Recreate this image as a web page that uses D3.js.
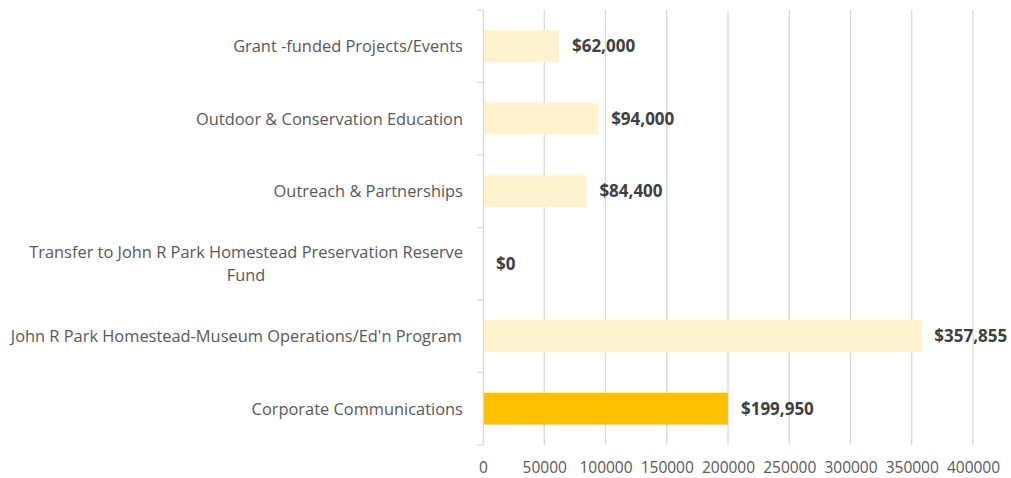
<!DOCTYPE html>
<html>
<head>
<meta charset="utf-8">
<script src="https://cdn.jsdelivr.net/npm/d3@7"></script>
<style>
  body { margin: 0; background: #fff; }
  text { font-family: "Open Sans", "Noto Sans", sans-serif; }
</style>
</head>
<body>
<div id="chart"></div>
<script>
const categories = [
    "Grant -funded Projects/Events",
    "Outdoor & Conservation Education",
    "Outreach & Partnerships",
    "Transfer to John R Park Homestead Preservation Reserve Fund",
    "John R Park Homestead-Museum Operations/Ed'n Program",
    "Corporate Communications"
];
const values = [62000, 94000, 84400, 0, 357855, 199950];
const highlighted = ["Corporate Communications"];
const xTicks = [0, 50000, 100000, 150000, 200000, 250000, 300000, 350000, 400000];

// wrapped label lines for the long category
const labelLines = {
    "Transfer to John R Park Homestead Preservation Reserve Fund": ["Transfer to John R Park Homestead Preservation Reserve", "Fund"]
};

const width = 1011;
const height = 478;
const plotLeft = 483, plotRight = 973, plotTop = 10, plotBottom = 445;

const data = categories.map((c, i) => ({ name: c, value: values[i] }));

const svg = d3.select("#chart")
    .append("svg")
    .attr("width", width)
    .attr("height", height);

const xScale = d3.scaleLinear()
    .domain([0, 400000])
    .range([plotLeft, plotRight]);

const yScale = d3.scaleBand()
    .domain(categories)
    .range([plotTop, plotBottom])
    .paddingInner(0.56)
    .paddingOuter(0.28);

const yOuter = d3.scaleBand()
    .domain(categories)
    .range([plotTop, plotBottom]);

// gridlines
svg.append("g")
    .selectAll("line")
    .data(xTicks.slice(1))
    .enter()
    .append("line")
    .attr("x1", d => xScale(d))
    .attr("x2", d => xScale(d))
    .attr("y1", plotTop)
    .attr("y2", plotBottom)
    .attr("stroke", "#d9d9d9")
    .attr("stroke-width", 1.3);

// category axis line and tick marks
const yAxis = d3.axisLeft(yOuter).tickSize(0).tickFormat("");
svg.append("g")
    .attr("transform", `translate(${plotLeft}, 0)`)
    .call(yAxis)
    .call(g => g.select(".domain").attr("stroke", "#d9d9d9").attr("stroke-width", 1.3));

svg.append("g")
    .selectAll("line")
    .data(categories.concat(["__end"]))
    .enter()
    .append("line")
    .attr("x1", plotLeft - 6)
    .attr("x2", plotLeft)
    .attr("y1", (d, i) => plotTop + i * yOuter.step())
    .attr("y2", (d, i) => plotTop + i * yOuter.step())
    .attr("stroke", "#d9d9d9")
    .attr("stroke-width", 1.3);

// bars
svg.selectAll(".bar")
    .data(data)
    .enter()
    .append("rect")
    .attr("class", "bar")
    .attr("x", xScale(0) + 1)
    .attr("y", d => yScale(d.name))
    .attr("width", d => Math.max(0, xScale(d.value) - xScale(0) - 1))
    .attr("height", yScale.bandwidth())
    .attr("fill", d => highlighted.includes(d.name) ? "#ffc000" : "#fff2cc");

// value labels
svg.selectAll(".value")
    .data(data)
    .enter()
    .append("text")
    .attr("class", "value")
    .attr("x", d => xScale(d.value) + 13)
    .attr("y", d => yScale(d.name) + yScale.bandwidth() / 2)
    .attr("dy", "0.35em")
    .attr("font-size", 17)
    .attr("font-weight", "bold")
    .attr("fill", "#404040")
    .text(d => "$" + d3.format(",")(d.value));

// category labels
const labels = svg.append("g")
    .selectAll("g")
    .data(categories)
    .enter()
    .append("g")
    .attr("transform", d => `translate(0, ${yOuter(d) + yOuter.bandwidth() / 2})`);

labels.each(function (d) {
    const lines = labelLines[d] || [d];
    const g = d3.select(this);
    const t = g.append("text")
        .attr("font-size", 16.4)
        .attr("fill", "#595959")
        .attr("text-anchor", "middle");
    lines.forEach((ln, i) => {
        t.append("tspan")
            .attr("x", 0)
            .attr("y", (i - (lines.length - 1) / 2) * 23)
            .attr("dy", "0.35em")
            .text(ln);
    });
    const w = t.node().getBBox().width;
    t.attr("transform", `translate(${463 - w / 2}, 0)`);
});

// x axis labels
const xAxis = d3.axisBottom(xScale).tickValues(xTicks).tickSize(0).tickPadding(0).tickFormat(d3.format("d"));
svg.append("g")
    .attr("transform", `translate(0, ${plotBottom + 23})`)
    .call(xAxis)
    .call(g => g.select(".domain").remove())
    .call(g => g.selectAll("text")
        .attr("font-size", 15.5)
        .attr("fill", "#595959")
        .attr("font-family", "\"Open Sans\", sans-serif")
        .attr("dy", "0.35em"));
</script>
</body>
</html>
